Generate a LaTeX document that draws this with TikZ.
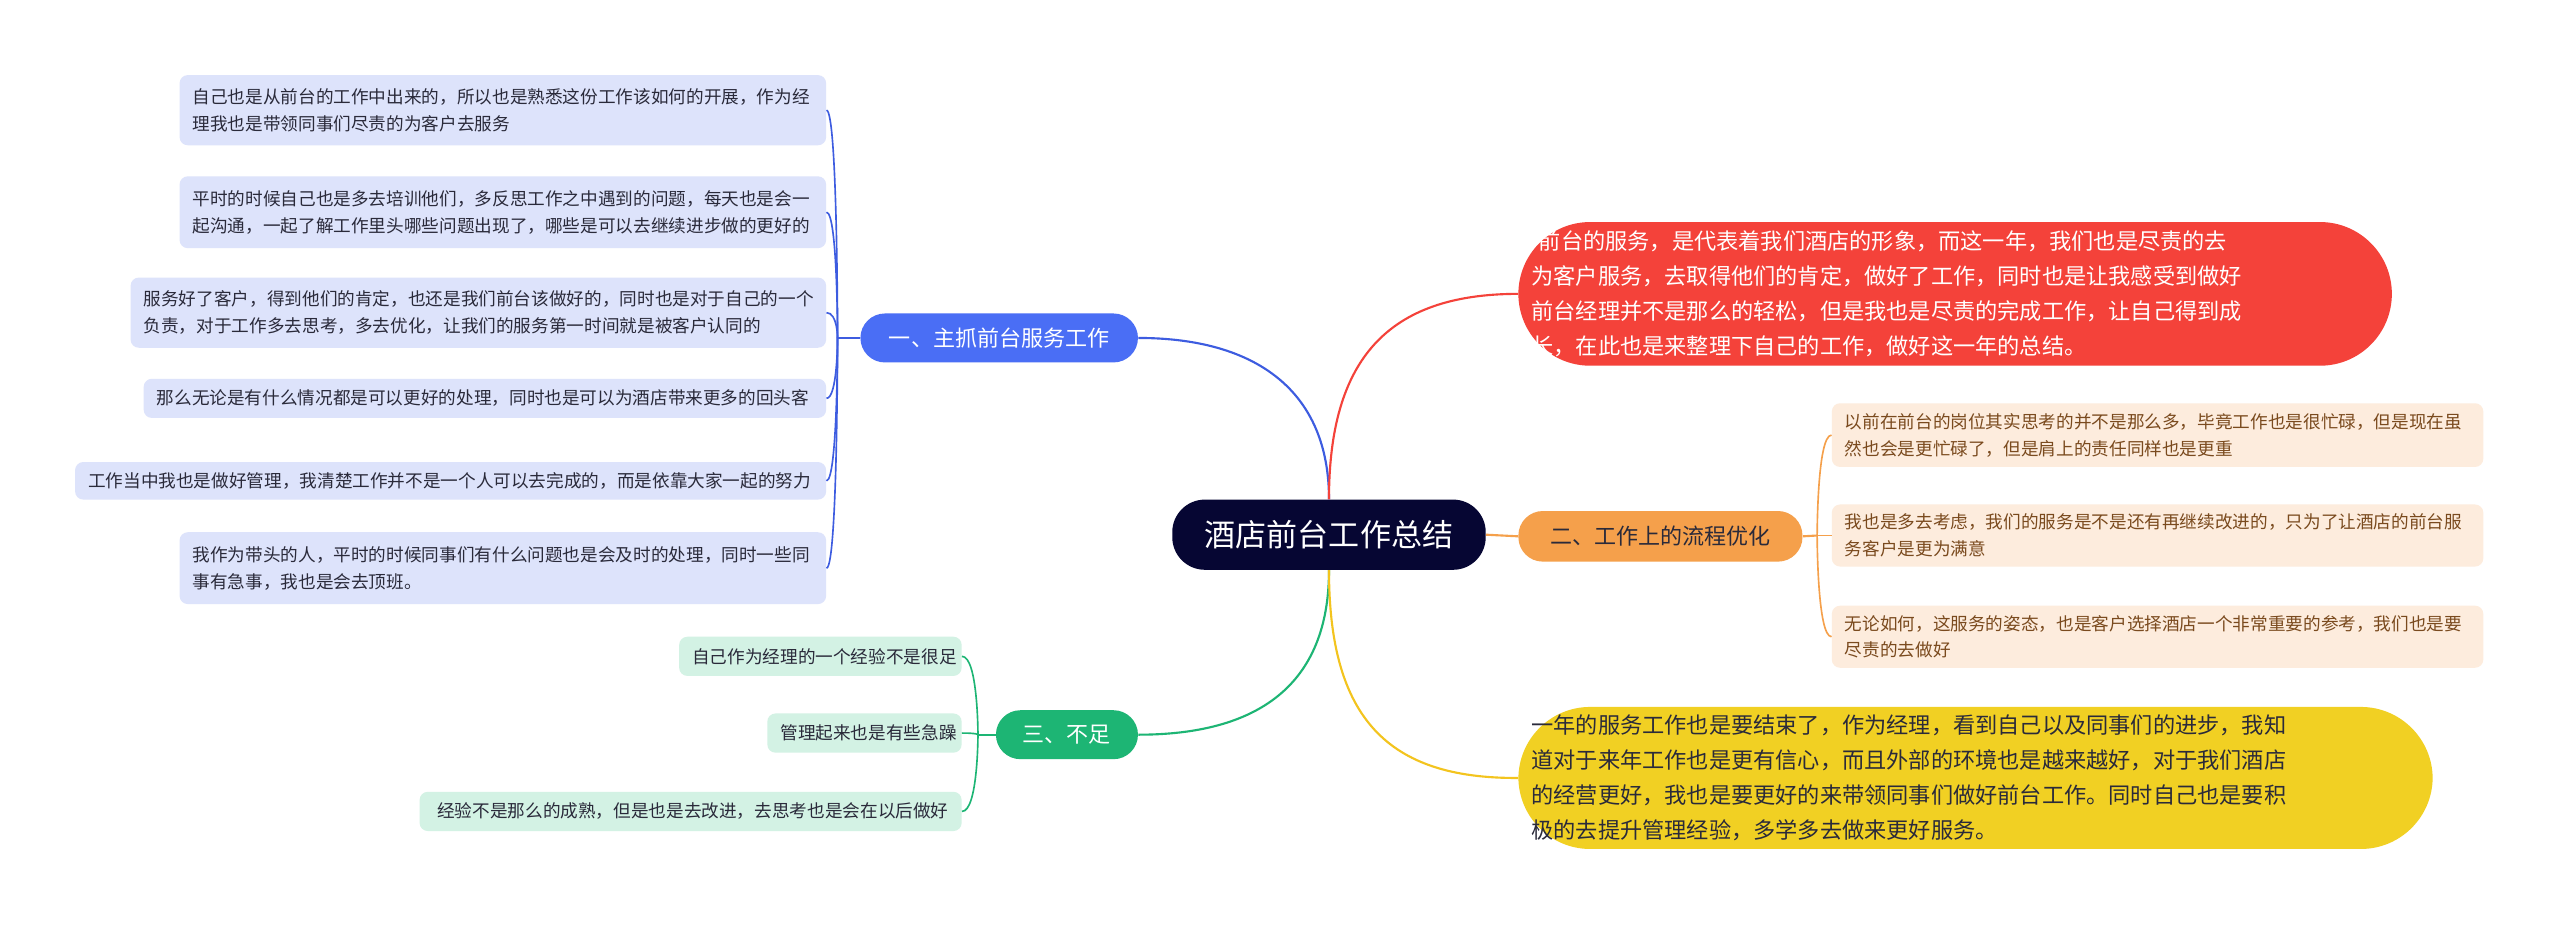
\documentclass[tikz,border=0pt]{standalone}
\usepackage{fontspec}
\setmainfont{Noto Sans CJK SC}
\definecolor{cen}{HTML}{060633}
\definecolor{bb}{HTML}{4A6EF5}
\definecolor{bl}{HTML}{DDE3FB}
\definecolor{bline}{HTML}{3D5CE0}
\definecolor{rr}{HTML}{F4423A}
\definecolor{oo}{HTML}{F5A04B}
\definecolor{ol}{HTML}{FDECDD}
\definecolor{ot}{HTML}{7A4A1E}
\definecolor{yy}{HTML}{F1D023}
\definecolor{gg}{HTML}{1DB574}
\definecolor{gl}{HTML}{D3F2E4}
\definecolor{tx}{HTML}{2A2A3A}
\newcommand{\bx}[7]{%
 \node[#6, minimum width={#4-#2}, minimum height={#5-#3}, text width={#4-#2-16}] (#1) at ({(#2+#4)/2},{(#3+#5)/2}) {#7};}
\begin{document}
\begin{tikzpicture}[x=1pt,y=-1pt,
  box/.style={inner sep=0pt, align=left, rounded corners=5pt},
  bleaf/.style={box, fill=bl, text=tx, font=\fontsize{10.8}{16.5}\selectfont},
  oleaf/.style={box, fill=ol, text=ot, font=\fontsize{10.8}{16.5}\selectfont},
  gleaf/.style={box, fill=gl, text=tx, font=\fontsize{10.8}{16.5}\selectfont, align=right},
  big/.style={box, rounded corners=44pt, font=\fontsize{13.6}{21.5}\selectfont},
  br/.style={box, align=center, rounded corners=15pt, font=\fontsize{13.5}{16}\selectfont},
  con/.style={line width=1.3pt}]
\useasboundingbox (0,0) rectangle (1568,566.5);
\fill[white] (0,0) rectangle (1568,566.5);
\bx{c}{718}{306}{910}{349}{box, align=center, rounded corners=20pt, fill=cen, text=white, font=\fontsize{19}{22}\selectfont}{酒店前台工作总结}
\bx{b}{527}{192}{697}{222}{br, fill=bb, text=white}{一、主抓前台服务工作}
\bx{o}{930}{313}{1104}{344}{br, fill=oo, text=tx}{二、工作上的流程优化}
\bx{g}{610}{435}{697}{465}{br, fill=gg, text=white}{三、不足}
\bx{r}{930}{136}{1465}{224}{big, fill=rr, text=white, text width=440pt}{\ 前台的服务，是代表着我们酒店的形象，而这一年，我们也是尽责的去\\为客户服务，去取得他们的肯定，做好了工作，同时也是让我感受到做好\\前台经理并不是那么的轻松，但是我也是尽责的完成工作，让自己得到成\\长，在此也是来整理下自己的工作，做好这一年的总结。}
\bx{y}{930}{433}{1490}{520}{big, fill=yy, text=tx, text width=440pt}{一年的服务工作也是要结束了，作为经理，看到自己以及同事们的进步，我知\\道对于来年工作也是更有信心，而且外部的环境也是越来越好，对于我们酒店\\的经营更好，我也是要更好的来带领同事们做好前台工作。同时自己也是要积\\极的去提升管理经验，多学多去做来更好服务。}
\bx{b1}{110}{46}{506}{89}{bleaf}{自己也是从前台的工作中出来的，所以也是熟悉这份工作该如何的开展，作为经\\理我也是带领同事们尽责的为客户去服务}
\bx{b2}{110}{108}{506}{152}{bleaf}{平时的时候自己也是多去培训他们，多反思工作之中遇到的问题，每天也是会一\\起沟通，一起了解工作里头哪些问题出现了，哪些是可以去继续进步做的更好的}
\bx{b3}{80}{170}{506}{213}{bleaf}{服务好了客户，得到他们的肯定，也还是我们前台该做好的，同时也是对于自己的一个\\负责，对于工作多去思考，多去优化，让我们的服务第一时间就是被客户认同的}
\bx{b4}{88}{232}{506}{256}{bleaf}{那么无论是有什么情况都是可以更好的处理，同时也是可以为酒店带来更多的回头客}
\bx{b5}{46}{283}{506}{306}{bleaf}{工作当中我也是做好管理，我清楚工作并不是一个人可以去完成的，而是依靠大家一起的努力}
\bx{b6}{110}{326}{506}{370}{bleaf}{我作为带头的人，平时的时候同事们有什么问题也是会及时的处理，同时一些同\\事有急事，我也是会去顶班。}
\bx{o1}{1122}{247}{1521}{286}{oleaf}{以前在前台的岗位其实思考的并不是那么多，毕竟工作也是很忙碌，但是现在虽\\然也会是更忙碌了，但是肩上的责任同样也是更重}
\bx{o2}{1122}{309}{1521}{347}{oleaf}{我也是多去考虑，我们的服务是不是还有再继续改进的，只为了让酒店的前台服\\务客户是更为满意}
\bx{o3}{1122}{371}{1521}{409}{oleaf}{无论如何，这服务的姿态，也是客户选择酒店一个非常重要的参考，我们也是要\\尽责的去做好}
\bx{g1}{416}{390}{589}{414}{gleaf}{自己作为经理的一个经验不是很足}
\bx{g2}{470}{437}{589}{461}{gleaf}{管理起来也是有些急躁}
\bx{g3}{257}{485}{589}{509}{gleaf}{经验不是那么的成熟，但是也是去改进，去思考也是会在以后做好}
% main connectors
\draw[con, draw=bline] (c.north) .. controls (814,240) and (770,207) .. (b.east);
\draw[con, draw=rr] (c.north) .. controls (814,220) and (850,180) .. (r.west);
\draw[con, draw=oo] (c.east) -- (o.west);
\draw[con, draw=gg] (c.south) .. controls (814,420) and (770,450) .. (g.east);
\draw[con, draw=yy!85!orange] (c.south) .. controls (814,440) and (850,477) .. (y.west);
% leaf brackets
\coordinate (bs) at (513,207);
\draw[con, draw=bline] (b.west) -- (bs);
\foreach \n in {b1,b2,b3,b4,b5,b6}
  \draw[line width=1pt, draw=bline] (bs) .. controls (513,207) and (513,0|-\n.east) .. (\n.east);
\coordinate (os) at (1113,328);
\draw[con, draw=oo] (o.east) -- (os);
\foreach \n in {o1,o2,o3}
  \draw[line width=1pt, draw=oo] (os) .. controls (1113,328) and (1113,0|-\n.west) .. (\n.west);
\coordinate (gs) at (599,450);
\draw[con, draw=gg] (g.west) -- (gs);
\foreach \n in {g1,g2,g3}
  \draw[line width=1pt, draw=gg] (gs) .. controls (599,450) and (599,0|-\n.east) .. (\n.east);
\end{tikzpicture}
\end{document}
